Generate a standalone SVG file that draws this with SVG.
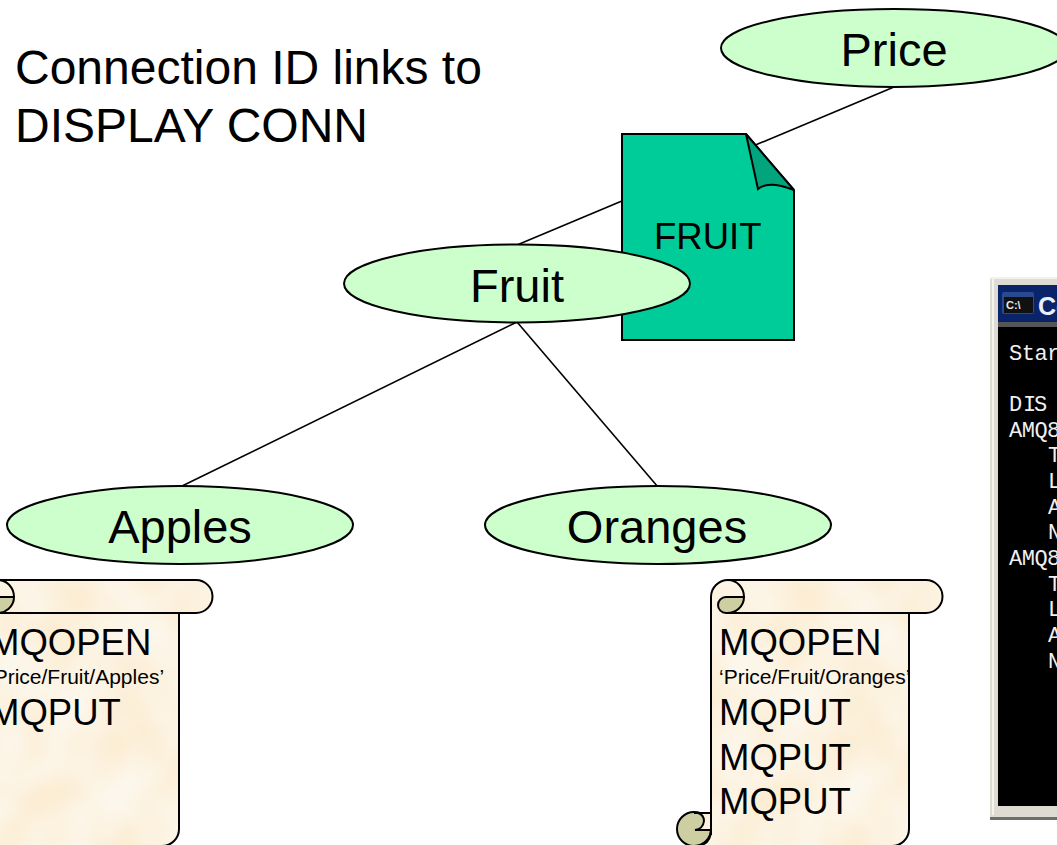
<svg xmlns="http://www.w3.org/2000/svg" width="1057" height="845" viewBox="0 0 1057 845">
<style>
text{font-family:"Liberation Sans",Arial,sans-serif;fill:#000}
.oval{fill:#CCFFCC;stroke:#000;stroke-width:2}
.lbl{font-size:47px;text-anchor:middle}
.title{font-size:48px}
.big{font-size:36.5px}
.small{font-size:21px}
.con{stroke:#000;stroke-width:1.6;fill:none}
.ln{fill:none;stroke:#000;stroke-width:2}
.curl{fill:#CDCFA3;stroke:#000;stroke-width:2}
.term{font-family:"Liberation Mono","DejaVu Sans Mono",monospace;font-size:22px;letter-spacing:-0.5px;fill:#F0F0F0}
</style>
<defs>
<filter id="mottle" x="0" y="0" width="1" height="1" color-interpolation-filters="sRGB">
<feTurbulence type="fractalNoise" baseFrequency="0.018" numOctaves="2" seed="7" result="n"/>
<feColorMatrix in="n" type="matrix" values="0 0 0 0 0.99  0.07 0 0 0 0.915  0.18 0 0 0 0.79  0 0 0 0 1" result="c"/>
<feComposite in="c" in2="SourceAlpha" operator="in"/>
</filter>
<g id="scroll">
<circle class="curl" cx="694" cy="829" r="17"/>
<path d="M694 813H711V830H695Q703 829 704 821Q704 815 698 813Z" fill="#FBF1DC" stroke="#000" stroke-width="2"/>
<path id="scroll-body" d="M711 835V597A17 17 0 0 1 728 580H926A16.500 16.500 0 0 1 926 613H909V829A17 17 0 0 1 892 846H694Q711 846 711 830Z" fill="#FBF1DC" filter="url(#mottle)"/>
<path class="ln" d="M711 835V597A17 17 0 0 1 728 580H926A16.500 16.500 0 0 1 926 613H909V829A17 17 0 0 1 892 846H694Q711 846 711 830"/>
<path class="curl" d="M744 597H726A8 8 0 0 0 726 613A17 16 0 0 0 744 597Z"/>
<path class="ln" d="M728 580A16 17 0 0 1 744 597M726 613H909"/>
</g>
</defs>
<rect width="1057" height="845" fill="#fff"/>
<g id="connectors">
<path class="con" d="M894 87L517 245"/>
<path class="con" d="M517 322L180 487"/>
<path class="con" d="M517 322L658 487"/>
</g>
<g id="caption">
<text class="title" x="15" y="84">Connection ID links to</text>
<text class="title" x="15" y="142">DISPLAY CONN</text>
</g>
<g id="fruit-doc">
<path d="M622 134H746L794 190V340H622Z" fill="#00CC99" stroke="#000" stroke-width="2"/>
<path d="M746 134L758 189Q768 180 794 190Z" fill="#00A57E" stroke="#000" stroke-width="2"/>
<text x="654" y="249" font-size="36.500">FRUIT</text>
</g>
<g id="node-price"><ellipse class="oval" cx="894" cy="48" rx="173" ry="39"/><text class="lbl" x="894" y="66">Price</text></g>
<g id="node-fruit"><ellipse class="oval" cx="517" cy="283.500" rx="173" ry="39"/><text class="lbl" x="517" y="302">Fruit</text></g>
<g id="node-apples"><ellipse class="oval" cx="180" cy="525" rx="173" ry="39"/><text class="lbl" x="180" y="543">Apples</text></g>
<g id="node-oranges"><ellipse class="oval" cx="658" cy="525" rx="173" ry="39"/><text class="lbl" x="657" y="543">Oranges</text></g>
<g id="scroll-apples">
<use href="#scroll" transform="translate(-730 0)"/>
<text class="big" x="-11" y="655">MQOPEN</text>
<text class="small" x="-11" y="684">‘Price/Fruit/Apples’</text>
<text class="big" x="-11" y="725">MQPUT</text>
</g>
<g id="scroll-oranges">
<use href="#scroll"/>
<text class="big" x="719" y="655">MQOPEN</text>
<text class="small" x="719" y="684">‘Price/Fruit/Oranges’</text>
<text class="big" x="719" y="725">MQPUT</text>
<text class="big" x="719" y="770">MQPUT</text>
<text class="big" x="719" y="814">MQPUT</text>
</g>
<g id="console">
<rect x="990" y="277" width="80" height="542" fill="#DEDBD2"/>
<rect x="990" y="277" width="80" height="2" fill="#F2F1EC"/>
<rect x="990" y="817" width="80" height="3" fill="#6E6E6E"/>
<rect x="992" y="279" width="2" height="536" fill="#F4F3EE"/>
<rect x="998" y="285" width="70" height="37" fill="#0A246A"/>
<rect x="1002" y="292" width="32" height="22" rx="2" fill="#2A4A90"/>
<rect x="1004" y="297" width="29" height="16" fill="#111"/>
<text x="1006" y="309" font-size="11" font-weight="700" style="fill:#E8E8E8">C:\</text>
<text x="1038" y="315" font-size="25" font-weight="700" style="fill:#EAF0FF">Co</text>
<rect x="998" y="322" width="70" height="5" fill="#555"/>
<rect x="998" y="327" width="70" height="479" fill="#000"/>
<text class="term" x="1009" y="360">Star</text>
<text class="term" x="1009 1023 1029 1034" y="411">DI S</text>
<text class="term" x="1009" y="437">AMQ8</text>
<text class="term" x="1048" y="462">T</text>
<text class="term" x="1048" y="488">L</text>
<text class="term" x="1048" y="514">A</text>
<text class="term" x="1048" y="539">N</text>
<text class="term" x="1009" y="565">AMQ8</text>
<text class="term" x="1048" y="591">T</text>
<text class="term" x="1048" y="616">L</text>
<text class="term" x="1048" y="642">A</text>
<text class="term" x="1048" y="668">N</text>
</g>
</svg>
